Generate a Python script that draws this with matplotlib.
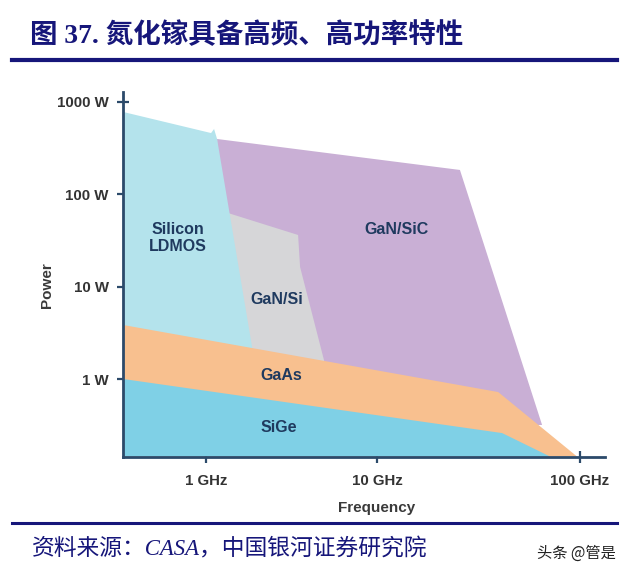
import numpy as np
import matplotlib
matplotlib.use("Agg")
import matplotlib.pyplot as plt
from matplotlib.lines import Line2D

# ---------------- data (frequency in GHz, power in W) ----------------
f_min, f_max = 0.330, 132.7
p_min, p_max = 0.145, 1277.0

ldmos_freq = [f_min, 1.074, 1.118, 1.164, 1.919, f_min]
ldmos_power = [776, 459, 508, 396, 1.61, 1.61]

gansic_freq = [1.164, 25.6, 65.0, 1.164]
gansic_power = [396, 183, 0.318, 0.318]

gansi_freq = [1.349, 3.459, 3.553, 5.07, 1.349]
gansi_power = [62.6, 36.2, 16.3, 1.25, 1.25]

gaas_freq = [f_min, 39.5, 96.6, f_min]
gaas_power = [3.84, 0.723, p_min, p_min]

sige_freq = [f_min, 41.3, 71.1, f_min]
sige_power = [1.0, 0.26, p_min, p_min]

x_ticks = [1, 10, 100]
x_tick_labels = ["1 GHz", "10 GHz", "100 GHz"]
y_ticks = [1, 10, 100, 1000]
y_tick_labels = ["1 W", "10 W", "100 W", "1000 W"]

region_labels = ["Silicon\nLDMOS", "GaN/SiC", "GaN/Si", "GaAs", "SiGe"]
region_label_pos = [(0.689, 33.6), (12.4, 41.0), (2.6, 7.25), (2.75, 1.08), (2.67, 0.295)]

# ---------------- style ----------------
C_LDMOS = "#b4e3ec"
C_GANSIC = "#c9afd5"
C_GANSI = "#d6d6d8"
C_GAAS = "#f8c08f"
C_SIGE = "#7fd0e6"
C_AXIS = "#2c4a6a"
C_LABEL = "#1f3a5f"
C_TICK = "#333333"
C_NAVY = "#16167a"

SANS = ["Liberation Sans", "DejaVu Sans"]
K = 203.0 / 171.3  # second decade drawn wider in the original


def fwd(f):
    L = np.log10(np.clip(np.asarray(f, dtype=float), 1e-12, None))
    return np.where(L <= 1, L, 1 + (L - 1) * K)


def inv(u):
    u = np.asarray(u, dtype=float)
    return np.where(u <= 1, 10.0 ** u, 10.0 ** (1 + (u - 1) / K))


fig = plt.figure(figsize=(6.29, 5.76), dpi=100)
ax = fig.add_axes([123.3 / 629, 1 - 456.5 / 576, (605 - 123.3) / 629, (456.5 - 92) / 576])
ax.set_xscale("function", functions=(fwd, inv))
ax.set_yscale("log")
ax.set_xlim(f_min, f_max)
ax.set_ylim(p_min, p_max)

ax.fill(gansic_freq, gansic_power, color=C_GANSIC, lw=0, zorder=1)
ax.fill(gansi_freq, gansi_power, color=C_GANSI, lw=0, zorder=2)
ax.fill(ldmos_freq, ldmos_power, color=C_LDMOS, lw=0, zorder=3)
ax.fill(gaas_freq, gaas_power, color=C_GAAS, lw=0, zorder=4)
ax.fill(sige_freq, sige_power, color=C_SIGE, lw=0, zorder=5)

for txt, (x, y) in zip(region_labels, region_label_pos):
    ax.text(x, y, txt, ha="center", va="center", fontsize=11.5, fontweight="bold",
            color=C_LABEL, family=SANS, zorder=6, linespacing=1.1)

for s in ["top", "right"]:
    ax.spines[s].set_visible(False)
for s in ["left", "bottom"]:
    ax.spines[s].set_color(C_AXIS)
    ax.spines[s].set_linewidth(2.0)
    ax.spines[s].set_zorder(7)

ax.set_xticks(x_ticks)
ax.set_xticklabels(x_tick_labels)
ax.set_yticks(y_ticks)
ax.set_yticklabels(y_tick_labels)
ax.minorticks_off()
ax.tick_params(axis="both", direction="inout", length=9, width=1.6, color=C_AXIS,
               labelcolor=C_TICK)
ax.tick_params(axis="x", pad=8)
ax.tick_params(axis="y", pad=6)
for lab in ax.get_xticklabels() + ax.get_yticklabels():
    lab.set_fontweight("bold")
    lab.set_fontsize(10.8)
    lab.set_family(SANS)

ax.set_xlabel("Frequency", fontsize=11, fontweight="bold", color="#3a3a3a", family=SANS)
ax.xaxis.set_label_coords((377 - 123.3) / (605 - 123.3), -(508 - 456.5) / (456.5 - 92))
ax.set_ylabel("Power", fontsize=11, fontweight="bold", color="#3a3a3a", family=SANS)
ax.yaxis.set_label_coords(-(123.3 - 47.5) / (605 - 123.3), (456.5 - 285) / (456.5 - 92))
ax.xaxis.label.set_va("center")
ax.yaxis.label.set_va("center")

# ---------------- title, rules, footer ----------------
fig.text(30 / 629, 1 - 36 / 576, "图 37. 氮化镓具备高频、高功率特性", fontsize=19.8,
         fontweight="bold", color=C_NAVY, va="center", ha="left",
         family=["Liberation Serif", "Noto Sans CJK SC"])
fig.add_artist(Line2D([12 / 629, 617 / 629], [1 - 60 / 576] * 2, color=C_NAVY, lw=3.0))
fig.add_artist(Line2D([12 / 629, 617 / 629], [1 - 523 / 576] * 2, color=C_NAVY, lw=2.2))
fig.text(32 / 629, 1 - 549 / 576, "资料来源：CASA，中国银河证券研究院", fontsize=16.4,
         style="italic", color=C_NAVY, va="center", ha="left",
         family=["Liberation Serif", "Noto Sans CJK SC"])
fig.text(616 / 629, 1 - 553 / 576, "头条 @管是", fontsize=11, color="#222222",
         va="center", ha="right", family=["Noto Sans CJK SC", "DejaVu Sans"])

fig.savefig("out.png", dpi=100, facecolor="white")
